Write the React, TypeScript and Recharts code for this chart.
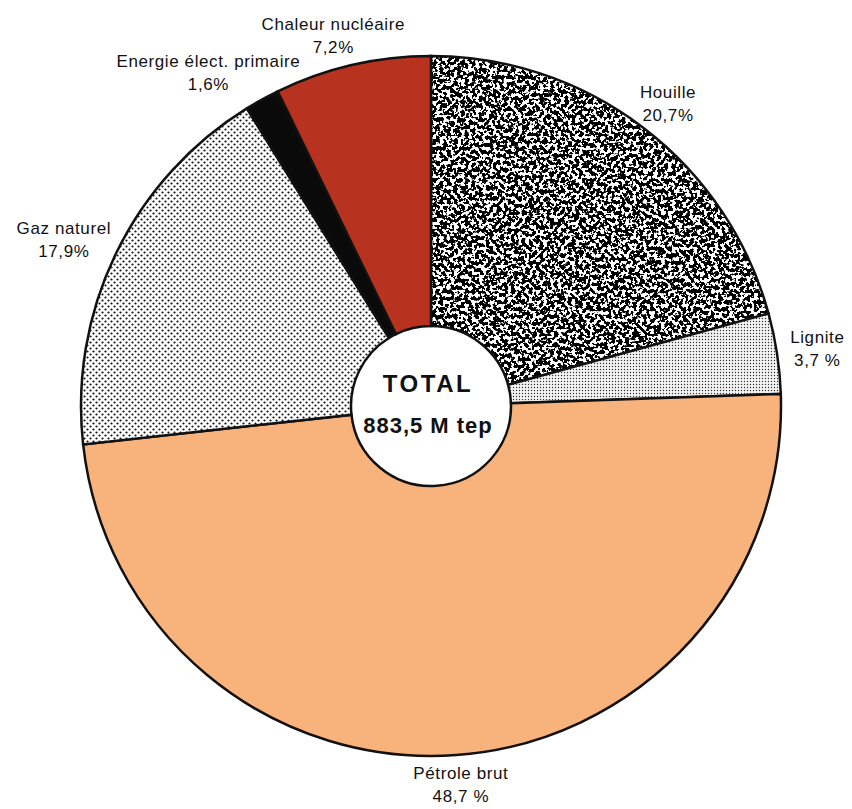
import React from "react";
import { PieChart, Pie, Cell } from "recharts";

const categories = [
  "Houille",
  "Lignite",
  "Pétrole brut",
  "Gaz naturel",
  "Energie élect. primaire",
  "Chaleur nucléaire",
];
const shares = [20.7, 3.7, 48.7, 17.9, 1.6, 7.2];
const shareLabels = ["20,7%", "3,7 %", "48,7 %", "17,9%", "1,6%", "7,2%"];
const fills = [
  "url(#houille)",
  "url(#lignite)",
  "#F8B27B",
  "url(#gaz)",
  "#0a0a0a",
  "#B83220",
];
const totalTitle = "TOTAL";
const totalValue = "883,5 M tep";

const data = categories.map((name, i) => ({
  name,
  value: shares[i],
  pct: shareLabels[i],
}));

const FONT = "'Liberation Sans', Arial, Helvetica, sans-serif";
const RAD = Math.PI / 180;
const CX = 418;
const CY = 393;

const renderLabel = (props: any) => {
  const { cx, cy, midAngle, outerRadius, payload } = props;
  const name = payload?.name ?? props.name;
  const pct = payload?.pct ?? "";
  const cos = Math.cos(-midAngle * RAD);
  const sin = Math.sin(-midAngle * RAD);
  const R = outerRadius + 10;
  const px = cx + R * cos;
  const py = cy + R * sin;
  const maxChars = Math.max(String(name).length, String(pct).length);
  const halfW = maxChars * 4.4;
  const x = px + cos * halfW;
  const y = py + sin * 20;
  return (
    <text
      x={x}
      y={y}
      textAnchor="middle"
      fontFamily={FONT}
      fontSize={17}
      letterSpacing={0.6}
      fill="#111"
    >
      <tspan x={x} y={y - 11.5} dominantBaseline="central">
        {name}
      </tspan>
      <tspan x={x} y={y + 11.5} dominantBaseline="central">
        {pct}
      </tspan>
    </text>
  );
};

export default function App() {
  return (
    <div style={{ width: 844, height: 801, background: "#fff", position: "relative" }}>
      <PieChart width={844} height={801}>
        <defs>
          <filter
            id="noiseFilter"
            x="0"
            y="0"
            width="1"
            height="1"
            colorInterpolationFilters="sRGB"
          >
            <feTurbulence
              type="fractalNoise"
              baseFrequency="0.28"
              numOctaves={2}
              seed={7}
              result="t"
            />
            <feColorMatrix
              in="t"
              type="matrix"
              values="0 0 0 0 0  0 0 0 0 0  0 0 0 0 0  -30 0 0 0 16.1"
            />
          </filter>
          <pattern
            id="houille"
            patternUnits="userSpaceOnUse"
            x="0"
            y="0"
            width="400"
            height="400"
          >
            <rect x="0" y="0" width="400" height="400" fill="#fff" />
            <rect
              x="0"
              y="0"
              width="400"
              height="400"
              fill="#000"
              filter="url(#noiseFilter)"
            />
          </pattern>
          <pattern
            id="gaz"
            patternUnits="userSpaceOnUse"
            x="0"
            y="0"
            width="6"
            height="6"
          >
            <rect x="0" y="0" width="6" height="6" fill="#fff" />
            <circle cx="1.5" cy="1.5" r="1.1" fill="#111" />
            <circle cx="4.5" cy="4.5" r="1.1" fill="#111" />
          </pattern>
          <pattern
            id="lignite"
            patternUnits="userSpaceOnUse"
            x="0"
            y="0"
            width="3"
            height="3"
          >
            <rect x="0" y="0" width="3" height="3" fill="#f4f4f4" />
            <circle cx="1.5" cy="1.5" r="0.7" fill="#333" />
          </pattern>
        </defs>
        <Pie
          data={data}
          dataKey="value"
          nameKey="name"
          cx={CX}
          cy={CY}
          innerRadius={80}
          outerRadius={350}
          startAngle={90}
          endAngle={-270}
          stroke="#111"
          strokeWidth={2.5}
          label={renderLabel}
          labelLine={false}
          isAnimationActive={false}
        >
          {data.map((d, i) => (
            <Cell key={d.name} fill={fills[i]} stroke="#111" strokeWidth={2.5} />
          ))}
        </Pie>
      </PieChart>
      <svg
        width={844}
        height={801}
        style={{ position: "absolute", left: 0, top: 0, pointerEvents: "none" }}
      >
        <text
          x={CX + 5 - 3}
          y={CY + 5 - 23}
          textAnchor="middle"
          dominantBaseline="central"
          fontFamily={FONT}
          fontWeight="bold"
          fontSize={24}
          letterSpacing={2.5}
          fill="#111"
        >
          {totalTitle}
        </text>
        <text
          x={CX + 5 - 3}
          y={CY + 5 + 19}
          textAnchor="middle"
          dominantBaseline="central"
          fontFamily={FONT}
          fontWeight="bold"
          fontSize={22}
          letterSpacing={1}
          fill="#111"
        >
          {totalValue}
        </text>
      </svg>
    </div>
  );
}
